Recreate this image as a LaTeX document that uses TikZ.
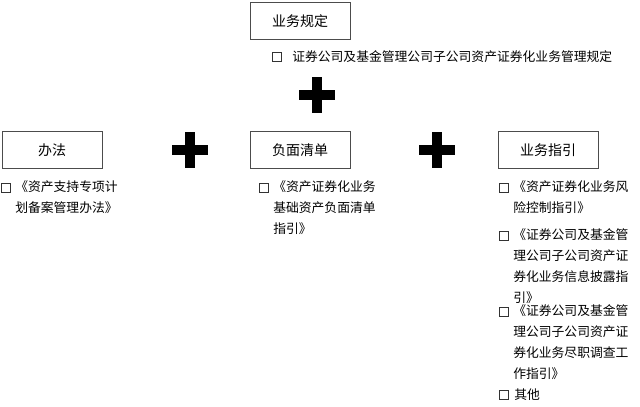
\documentclass[tikz,border=0pt]{standalone}
\usepackage{fontspec}
\setmainfont{Noto Sans CJK SC}
\begin{document}
\begin{tikzpicture}[x=0.75pt, y=-0.75pt]
  \tikzstyle{hdr}=[rectangle, draw=black!70, minimum width=75pt, minimum height=28pt, font=\fontsize{10.5}{12}\selectfont]
  \tikzstyle{chk}=[rectangle, draw=black!80, minimum size=7pt, inner sep=0pt]
  \tikzstyle{txt}=[anchor=west, align=left, inner sep=0pt, font=\fontsize{9.6}{15.8}\selectfont]
  \tikzstyle{plus}=[line width=7.5pt]
  \useasboundingbox (0,0) rectangle (640,407);
  % boxes
  \node[hdr] (rule) at (300,21) {业务规定};
  \node[hdr] (meas) at (52,150) {办法};
  \node[hdr] (neg) at (300,150) {负面清单};
  \node[hdr] (guide) at (548,150) {业务指引};
  % plus signs
  \foreach \px/\py in {317/95, 190/150, 437/150} {
    \draw[plus] (\px-18,\py) -- (\px+18,\py);
    \draw[plus] (\px,\py-18) -- (\px,\py+18);
  }
  % items
  \node[chk] (c0) at (277,57) {};
  \node[txt, anchor=west] (t0) at (292,57) {证券公司及基金管理公司子公司资产证券化业务管理规定};
  \node[chk] (c1) at (6,188) {};
  \node[txt, anchor=north west] (t1) at (15,180) {《资产支持专项计\\划备案管理办法》};
  \node[chk] (c2) at (264,188) {};
  \node[txt, anchor=north west] (t2) at (273,180) {《资产证券化业务\\基础资产负面清单\\指引》};
  \node[chk] (c3) at (504,188) {};
  \node[txt, anchor=north west] (t3) at (513,180) {《资产证券化业务风\\险控制指引》};
  \node[chk] (c4) at (504,236) {};
  \node[txt, anchor=north west] (t4) at (513,228) {《证券公司及基金管\\理公司子公司资产证\\券化业务信息披露指\\引》};
  \node[chk] (c5) at (504,312) {};
  \node[txt, anchor=north west] (t5) at (513,304) {《证券公司及基金管\\理公司子公司资产证\\券化业务尽职调查工\\作指引》};
  \node[chk] (c6) at (504,395) {};
  \node[txt] (t6) at (514,395) {其他};
\end{tikzpicture}
\end{document}
